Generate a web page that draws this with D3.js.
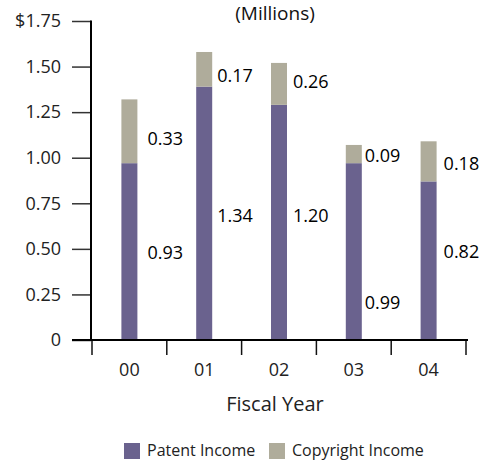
<!DOCTYPE html>
<html>
<head>
<meta charset="utf-8">
<script src="https://cdn.jsdelivr.net/npm/d3@7"></script>
<style>
  html, body { margin: 0; padding: 0; background: #fff; }
  svg { display: block; }
  text { font-family: "Open Sans", "Noto Sans", sans-serif; }
</style>
</head>
<body>
<svg id="chart" width="485" height="461"></svg>
<script>
// ---- data ----
const years = ["00", "01", "02", "03", "04"];
// bar heights as drawn in the picture ($ millions)
const patentIncome    = [0.97, 1.39, 1.29, 0.97, 0.87];
const copyrightIncome = [0.35, 0.19, 0.23, 0.10, 0.22];
// printed value labels
const patentLabels    = ["0.93", "1.34", "1.20", "0.99", "0.82"];
const copyrightLabels = ["0.33", "0.17", "0.26", "0.09", "0.18"];
const yTicks = [0, 0.25, 0.5, 0.75, 1.0, 1.25, 1.5, 1.75];
const seriesNames = ["Patent Income", "Copyright Income"];

// ---- layout ----
const colors = { patent: "#6a628e", copyright: "#afac9b" };
const barW = 16;
const patentNudgeY = [1, 2, -7, 51, -9];
const copyrightNudgeY = [7, 6, -2, 1, 2];
const labelNudgeX = [10, 5, 6, 3, 7];

const svg = d3.select("#chart");
const x = d3.scaleBand().domain(years).range([92, 466]).padding(0);
const y = d3.scaleLinear().domain([0, 1.75]).range([340, 21]);

// title
svg.append("text").attr("x", 275).attr("y", 20).attr("text-anchor", "middle")
  .attr("font-size", 19).attr("fill", "#111").text("(Millions)");

const stackData = years.map((yr, i) => ({ yr, patent: patentIncome[i], copyright: copyrightIncome[i] }));
const stacked = d3.stack().keys(["patent", "copyright"])(stackData);

// bars
svg.append("g").selectAll("g").data(stacked).join("g")
  .attr("fill", d => colors[d.key])
  .selectAll("rect").data(d => d).join("rect")
  .attr("x", d => x(d.data.yr) + x.bandwidth() / 2 - barW / 2)
  .attr("width", barW)
  .attr("y", d => y(d[1]))
  .attr("height", d => y(d[0]) - y(d[1]));

// value labels
const lab = svg.append("g").attr("font-size", 18).attr("fill", "#000");
stackData.forEach((d, i) => {
  const lx = x(d.yr) + x.bandwidth() / 2 + barW / 2 + labelNudgeX[i];
  const pm = (y(0) + y(d.patent)) / 2 + patentNudgeY[i];
  const cm = (y(d.patent) + y(d.patent + d.copyright)) / 2 + copyrightNudgeY[i];
  lab.append("text").attr("x", lx).attr("y", pm).attr("dy", "0.36em").text(patentLabels[i]);
  lab.append("text").attr("x", lx).attr("y", cm).attr("dy", "0.36em").text(copyrightLabels[i]);
});

// y axis
const yAxis = d3.axisLeft(y).tickValues(yTicks).tickSize(19).tickPadding(11)
  .tickFormat(v => v === 0 ? "0" : (v === 1.75 ? "$" + d3.format(".2f")(v) : d3.format(".2f")(v)));
const gy = svg.append("g").attr("transform", "translate(91,0)").call(yAxis);
gy.select(".domain").remove();
gy.selectAll(".tick line").attr("stroke", "#333").attr("stroke-width", 1.5);
gy.selectAll(".tick text").attr("font-size", 18).attr("fill", "#222")
  .attr("font-family", "'Open Sans', sans-serif");
svg.append("line").attr("x1", 91).attr("x2", 91).attr("y1", y(1.75) - 0.5).attr("y2", y(0) + 1)
  .attr("stroke", "#000").attr("stroke-width", 2);

// x axis
const edges = years.map(v => x(v)).concat([x.range()[1]]);
svg.append("g").selectAll("line").data(edges).join("line")
  .attr("x1", d => d).attr("x2", d => d).attr("y1", 340).attr("y2", 355)
  .attr("stroke", "#111").attr("stroke-width", 1.5);
svg.append("line").attr("x1", 72).attr("x2", 468).attr("y1", 340).attr("y2", 340)
  .attr("stroke", "#000").attr("stroke-width", 2);
svg.append("g").selectAll("text").data(years).join("text")
  .attr("x", d => x(d) + x.bandwidth() / 2).attr("y", 376)
  .attr("text-anchor", "middle").attr("font-size", 18).attr("fill", "#222").text(d => d);

svg.append("text").attr("x", 275).attr("y", 411).attr("text-anchor", "middle")
  .attr("font-size", 20).attr("fill", "#222").text("Fiscal Year");

// legend
const legend = svg.append("g");
const legendX = [124, 269];
[colors.patent, colors.copyright].forEach((c, i) => {
  legend.append("rect").attr("x", legendX[i]).attr("y", 443).attr("width", 16).attr("height", 16).attr("fill", c);
  legend.append("text").attr("x", legendX[i] + 23).attr("y", 456).attr("font-size", 16)
    .attr("fill", "#222").text(seriesNames[i]);
});
</script>
</body>
</html>
